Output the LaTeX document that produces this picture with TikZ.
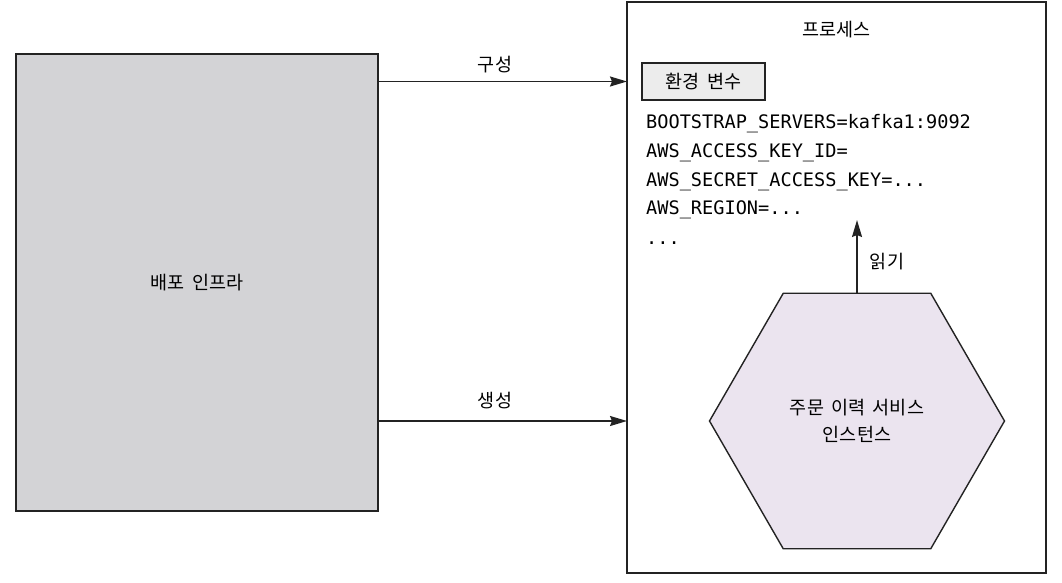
\documentclass[tikz,border=0pt]{standalone}
\usepackage{fontspec}
\setmainfont[WordSpace=1.8]{Noto Sans CJK KR}
\setmonofont{DejaVu Sans Mono}
\usetikzlibrary{arrows.meta,shapes.geometric,positioning}

\definecolor{infragris}{RGB}{211,211,214}
\definecolor{entornogris}{RGB}{236,236,236}
\definecolor{serviciolila}{RGB}{235,228,239}
\definecolor{trazo}{RGB}{35,35,35}

\begin{document}
\begin{tikzpicture}[x=1pt, y=-1pt]
		% Definición de estilos
		\tikzstyle{caja} = [rectangle, draw=trazo, line width=1.6pt, inner sep=0pt, outer sep=0pt,
			font=\fontsize{18.5}{22}\selectfont]
		\tikzstyle{hexa} = [regular polygon, regular polygon sides=6, draw=trazo, line width=1.4pt,
			fill=serviciolila, minimum size=295pt, inner sep=0pt, outer sep=0pt, align=center,
			font=\fontsize{18.5}{27}\selectfont]
		\tikzstyle{etiqueta} = [inner sep=0pt, font=\fontsize{18.5}{22}\selectfont]
		\tikzstyle{varentorno} = [anchor=base west, inner sep=0pt, font=\ttfamily\fontsize{18.6}{22}\selectfont]
		\tikzstyle{flecha} = [draw=trazo, line width=1.6pt, -{Stealth[length=17pt, width=10pt, inset=2pt]}]

		\useasboundingbox (0,0) rectangle (1062,582);

		% Nodos
		\node [caja, fill=infragris, minimum width=362pt, minimum height=457pt] (infra) at (197,282.5) {배포 인프라};
		\node [caja, minimum width=419pt, minimum height=571pt] (proceso) at (836.5,287.5) {};
		\node [etiqueta, below=19pt of proceso.north] (tproceso) {프로세스};
		\node [caja, fill=entornogris, minimum width=123pt, minimum height=37pt] (entorno) at (703.5,81.5) {환경 변수};

		\node [varentorno] (vboot) at (646,128) {BOOTSTRAP\_SERVERS=kafka1:9092};
		\node [varentorno] (vclave) at (646,157) {AWS\_ACCESS\_KEY\_ID=};
		\node [varentorno] (vsecreto) at (646,186) {AWS\_SECRET\_ACCESS\_KEY=...};
		\node [varentorno] (vregion) at (646,214) {AWS\_REGION=...};
		\node [varentorno] (vresto) at (646,244) {...};

		\node [hexa] (servicio) at (857,421) {주문 이력 서비스\\인스턴스};
		\coordinate (lectura) at (857,220);

		% Conexiones
		\path [flecha] (infra.east |- entorno) -- (proceso.west |- entorno);
		\path [flecha] (infra.east |- servicio) -- (proceso.west |- servicio);
		\path [flecha] (servicio.north) -- (lectura);

		% Etiquetas
		\node [etiqueta] (tconfig) at (495,65) {구성};
		\node [etiqueta] (tcrear) at (495,401) {생성};
		\node [etiqueta] (tleer) at (887,262) {읽기};
	\end{tikzpicture}
\end{document}
